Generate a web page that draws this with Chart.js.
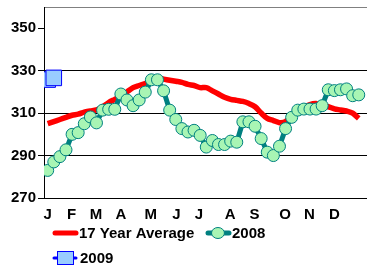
<!DOCTYPE html>
<html>
<head>
<meta charset="utf-8">
<script src="https://cdn.jsdelivr.net/npm/chart.js@4/dist/chart.umd.min.js"></script>
<style>
  body { margin: 0; background: #fff; }
  #wrap { width: 367px; height: 266px; position: relative; }
</style>
</head>
<body>
<div id="wrap"><canvas id="tempChart"></canvas></div>
<script>
// week index 0..51
const weeks = Array.from({ length: 52 }, (_, i) => i);

const avg17 = [305, 306, 307, 308, 309, 309.5, 310.5, 311, 311.5, 313,
  315, 316.5, 318, 320, 322, 323, 324, 325.5, 326.5, 326,
  325.5, 325, 324.5, 323.5, 323, 322, 322, 320.5, 319, 317.5,
  316.5, 316, 315.5, 314.5, 313, 310, 307.5, 306.5, 305.5, 306,
  309, 311, 312.5, 314, 314.5, 313.5, 313, 312, 311.5, 311,
  310, 307.5];

const y2008 = [283, 287, 289.5, 292.7, 300, 300.8, 305, 308.2, 305.4, 311.4,
  311.8, 311.8, 319, 316.2, 313.5, 316.2, 319.9, 325.7, 325.7, 320.5,
  311.4, 307, 302.7, 301.1, 301.9, 299.5, 294, 297.1, 295.2, 295.2,
  296.8, 296.3, 305.9, 305.9, 303.8, 298, 291.6, 290, 294.4, 302.7,
  308, 311.4, 311.9, 311.9, 311.9, 313.5, 321, 320.6, 321, 321.4,
  318.2, 318.6];

const y2009 = [325.8, 326.6];

const monthLabels = ["J", "F", "M", "A", "M", "J", "J", "A", "S", "O", "N", "D"];
const monthPos = [0, 3.9, 7.9, 12, 16.9, 21.1, 24.8, 29.9, 33.9, 38.9, 42.9, 47];
const yTicks = [270, 290, 310, 330, 350, 360];

const FONT = "'Liberation Sans', Arial, sans-serif";
const TEAL = "#008080";
const GREEN = "#a8f5b4";

function pts(vals) {
  return vals.map((v, i) => ({ x: weeks[i], y: v }));
}

// legend drawn under the plot
const legendPlugin = {
  id: "bottomLegend",
  afterDraw(chart) {
    const ctx = chart.ctx;
    ctx.save();
    ctx.font = "bold 15px " + FONT;
    ctx.fillStyle = "#000";
    ctx.textBaseline = "middle";
    ctx.lineCap = "round";

    ctx.strokeStyle = "#ff0000";
    ctx.lineWidth = 5;
    ctx.beginPath(); ctx.moveTo(55, 233); ctx.lineTo(76, 233); ctx.stroke();
    ctx.fillText("17 Year Average", 79, 234);

    ctx.strokeStyle = TEAL;
    ctx.beginPath(); ctx.moveTo(208, 233); ctx.lineTo(229, 233); ctx.stroke();
    ctx.beginPath(); ctx.ellipse(218, 233, 6.5, 5.5, 0, 0, Math.PI * 2);
    ctx.fillStyle = GREEN; ctx.fill();
    ctx.lineWidth = 1; ctx.stroke();
    ctx.fillStyle = "#000";
    ctx.fillText("2008", 232, 234);

    ctx.strokeStyle = "#0000ff";
    ctx.lineWidth = 3;
    ctx.beginPath(); ctx.moveTo(54, 258); ctx.lineTo(76, 258); ctx.stroke();
    ctx.fillStyle = "#99ccff";
    ctx.fillRect(57, 251, 17, 14);
    ctx.lineWidth = 1;
    ctx.strokeRect(57.5, 251.5, 16, 13);
    ctx.fillStyle = "#000";
    ctx.fillText("2009", 80, 259);
    ctx.restore();
  }
};

new Chart(document.getElementById("tempChart"), {
  type: "line",
  data: {
    datasets: [
      {
        label: "2009",
        data: pts(y2009),
        borderColor: "#0000ff",
        borderWidth: 2,
        backgroundColor: "#99ccff",
        pointStyle: "rect",
        pointRadius: 11,
        pointBorderWidth: 1,
        pointBorderColor: "#0000ff",
        clip: 0,
        order: 1,
      },
      {
        label: "2008",
        data: pts(y2008),
        borderColor: TEAL,
        borderWidth: 5,
        backgroundColor: GREEN,
        pointRadius: 6,
        pointBorderWidth: 1,
        pointBorderColor: TEAL,
        clip: 0,
        order: 2,
      },
      {
        label: "17 Year Average",
        data: pts(avg17),
        borderColor: "#ff0000",
        borderWidth: 5.5,
        pointRadius: 0,
        tension: 0.3,
        clip: 0,
        order: 3,
      },
    ],
  },
  options: {
    responsive: true,
    maintainAspectRatio: false,
    animation: false,
    layout: { autoPadding: false, padding: { left: 9, right: 0, top: 0, bottom: 42 } },
    plugins: { legend: { display: false }, tooltip: { enabled: false } },
    scales: {
      x: {
        type: "linear",
        min: -0.6,
        max: 52.35,
        afterBuildTicks: (s) => { s.ticks = monthPos.map((v) => ({ value: v })); },
        grid: { display: false },
        border: { display: true, color: "#000", width: 1 },
        ticks: {
          autoSkip: false,
          maxRotation: 0,
          padding: 0,
          color: "#000",
          font: { family: FONT, size: 15, weight: "bold" },
          callback: (v, i) => monthLabels[i],
        },
      },
      y: {
        min: 270,
        max: 360,
        afterBuildTicks: (s) => { s.ticks = yTicks.map((v) => ({ value: v })); },
        afterFit: (s) => { s.paddingTop = 7; },
        grid: {
          color: (c) => c.tick && c.tick.value === 350 ? "rgba(0,0,0,0)" : c.tick && c.tick.value === 360 ? "#808080" : "#000",
          tickColor: (c) => c.tick && c.tick.value === 360 ? "rgba(0,0,0,0)" : "#000",
          tickLength: 6,
          lineWidth: 1,
        },
        border: { display: true, color: "#000", width: 1 },
        ticks: {
          padding: 2,
          color: "#000",
          font: { family: FONT, size: 15, weight: "bold" },
          callback: (v) => v === 360 ? "" : v,
        },
      },
    },
  },
  plugins: [legendPlugin],
});
</script>
</body>
</html>
